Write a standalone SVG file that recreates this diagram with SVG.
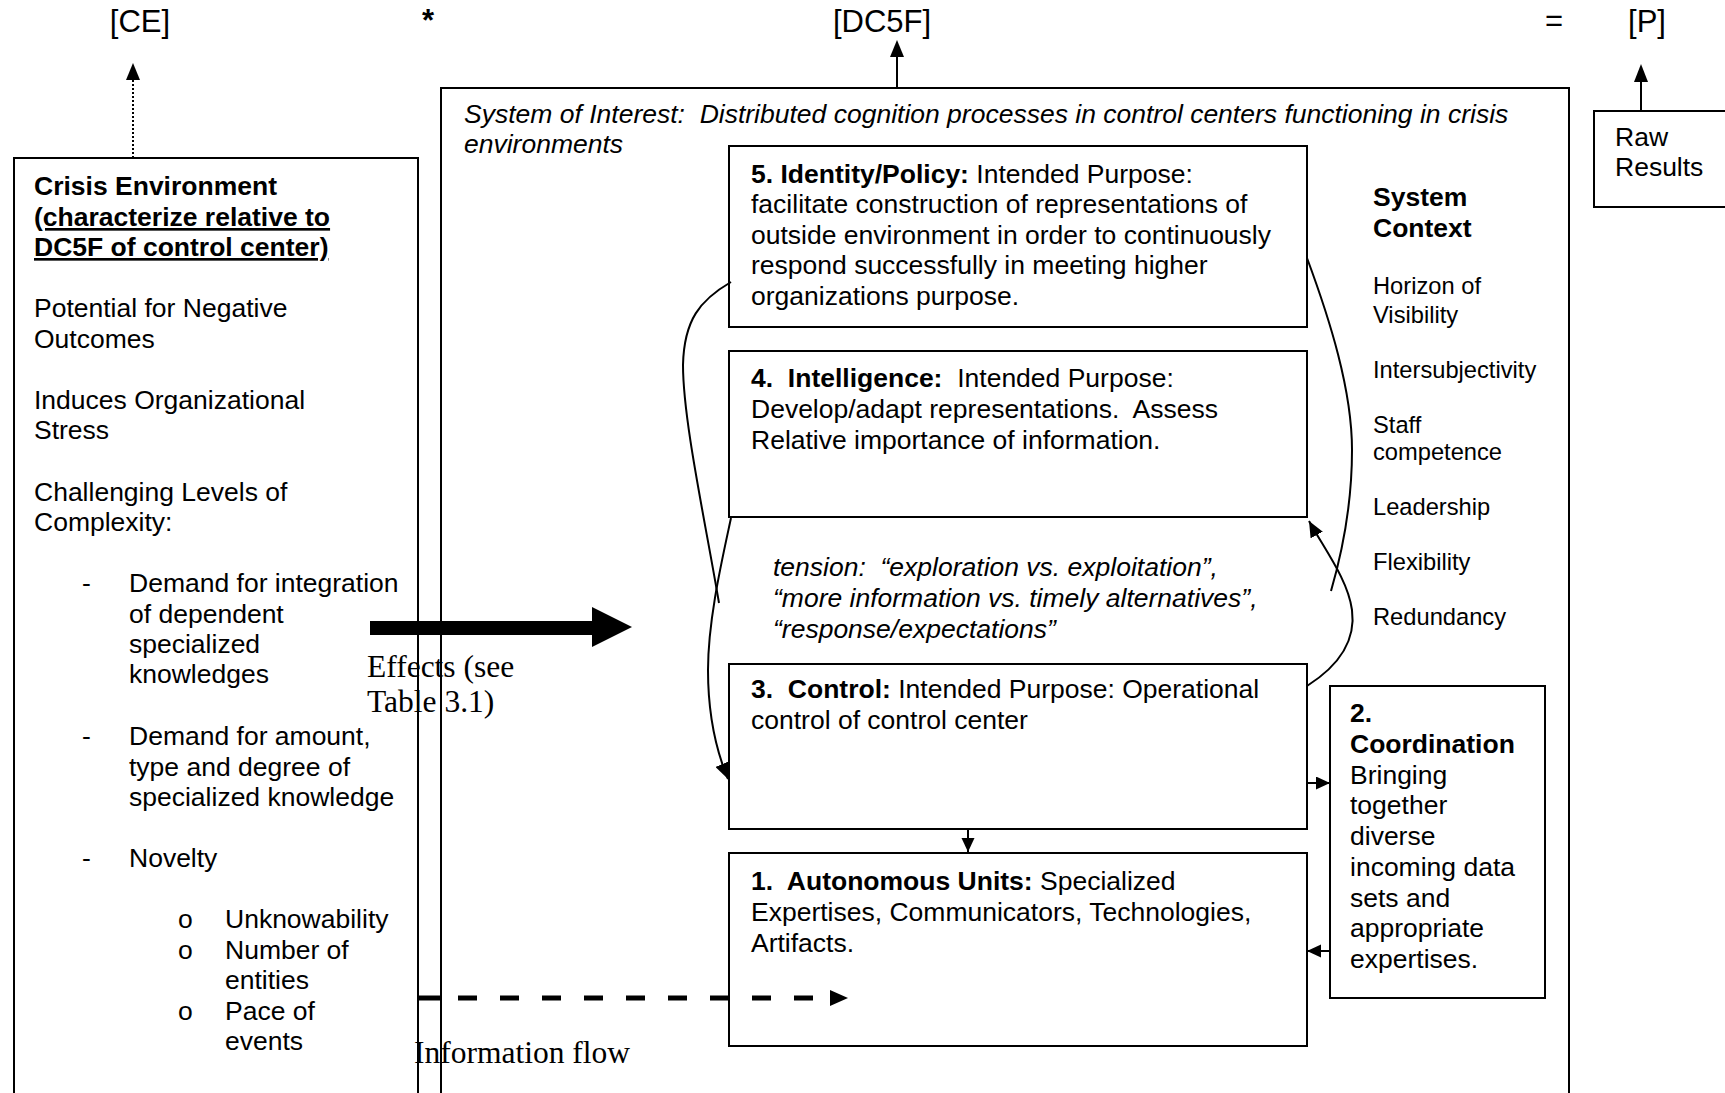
<svg xmlns="http://www.w3.org/2000/svg" width="1725" height="1093" viewBox="0 0 1725 1093">
<style>
.t{font-family:"Liberation Sans",Arial,sans-serif;font-size:26.5px;fill:#000}
.top{font-size:31px}
.b{font-weight:bold}
.i{font-style:italic}
.s{font-size:23.7px}
.u{text-decoration:underline}
.sf{font-family:"Liberation Serif","Times New Roman",serif;font-size:31.5px;fill:#000}
.box{fill:none;stroke:#000;stroke-width:2}
.ln{fill:none;stroke:#000;stroke-width:2}
.hd{fill:#000;stroke:none}
</style>
<defs>
<marker id="ah" markerUnits="userSpaceOnUse" markerWidth="18" markerHeight="14" refX="16" refY="7" orient="auto">
<path d="M0,0 L16,7 L0,14 Z" fill="#000"/>
</marker>
<marker id="ahs" markerUnits="userSpaceOnUse" markerWidth="16" markerHeight="14" refX="14" refY="6.5" orient="auto">
<path d="M0,0 L14,6.5 L0,13 Z" fill="#000"/>
</marker>
</defs>
<rect width="1725" height="1093" fill="#fff"/>

<g id="equation">
<text class="t top" x="140" y="32" text-anchor="middle">[CE]</text>
<text class="t top b" x="428" y="31" text-anchor="middle">*</text>
<text class="t top" x="882" y="32" text-anchor="middle">[DC5F]</text>
<text class="t top" x="1554" y="31" text-anchor="middle">=</text>
<text class="t top" x="1647" y="32" text-anchor="middle">[P]</text>
</g>

<g id="crisis-environment">
<path class="box" d="M14,1093 V158 H418 V1093"/>
<text class="t b" x="34" y="195">Crisis Environment</text>
<text class="t b u" x="34" y="226">(characterize relative to</text>
<text class="t b u" x="34" y="256">DC5F of control center)</text>
<text class="t" x="34" y="317">Potential for Negative</text>
<text class="t" x="34" y="348">Outcomes</text>
<text class="t" x="34" y="409">Induces Organizational</text>
<text class="t" x="34" y="439">Stress</text>
<text class="t" x="34" y="501">Challenging Levels of</text>
<text class="t" x="34" y="531">Complexity:</text>
<text class="t" x="82" y="592">-</text>
<text class="t" x="129" y="592">Demand for integration</text>
<text class="t" x="129" y="623">of dependent</text>
<text class="t" x="129" y="653">specialized</text>
<text class="t" x="129" y="683">knowledges</text>
<text class="t" x="82" y="745">-</text>
<text class="t" x="129" y="745">Demand for amount,</text>
<text class="t" x="129" y="776">type and degree of</text>
<text class="t" x="129" y="806">specialized knowledge</text>
<text class="t" x="82" y="867">-</text>
<text class="t" x="129" y="867">Novelty</text>
<text class="t" x="178" y="928">o</text>
<text class="t" x="225" y="928">Unknowability</text>
<text class="t" x="178" y="959">o</text>
<text class="t" x="225" y="959">Number of</text>
<text class="t" x="225" y="989">entities</text>
<text class="t" x="178" y="1020">o</text>
<text class="t" x="225" y="1020">Pace of</text>
<text class="t" x="225" y="1050">events</text>
</g>

<g id="system-of-interest">
<path class="box" d="M441,1093 V88 H1569 V1093"/>
<text class="t i" x="464" y="123" xml:space="preserve">System of Interest:  Distributed cognition processes in control centers functioning in crisis</text>
<text class="t i" x="464" y="153">environments</text>
</g>

<g id="identity-policy">
<rect class="box" x="729" y="146" width="578" height="181"/>
<text class="t" x="751" y="183" xml:space="preserve"><tspan class="b">5. Identity/Policy:</tspan> Intended Purpose:</text>
<text class="t" x="751" y="213">facilitate construction of representations of</text>
<text class="t" x="751" y="244">outside environment in order to continuously</text>
<text class="t" x="751" y="274">respond successfully in meeting higher</text>
<text class="t" x="751" y="305">organizations purpose.</text>
</g>

<g id="intelligence">
<rect class="box" x="729" y="351" width="578" height="166"/>
<text class="t" x="751" y="387" xml:space="preserve"><tspan class="b">4.  Intelligence:</tspan>  Intended Purpose:</text>
<text class="t" x="751" y="418" xml:space="preserve">Develop/adapt representations.  Assess</text>
<text class="t" x="751" y="449">Relative importance of information.</text>
</g>

<g id="tension">
<text class="t i" x="773" y="576" xml:space="preserve">tension:  “exploration vs. exploitation”,</text>
<text class="t i" x="773" y="607">“more information vs. timely alternatives”,</text>
<text class="t i" x="773" y="638">“response/expectations”</text>
</g>

<g id="control">
<rect class="box" x="729" y="664" width="578" height="165"/>
<text class="t" x="751" y="698" xml:space="preserve"><tspan class="b">3.  Control:</tspan> Intended Purpose: Operational</text>
<text class="t" x="751" y="729">control of control center</text>
</g>

<g id="autonomous-units">
<rect class="box" x="729" y="853" width="578" height="193"/>
<text class="t" x="751" y="890" xml:space="preserve"><tspan class="b">1.  Autonomous Units:</tspan> Specialized</text>
<text class="t" x="751" y="921">Expertises, Communicators, Technologies,</text>
<text class="t" x="751" y="952">Artifacts.</text>
</g>

<g id="coordination">
<rect class="box" x="1330" y="686" width="215" height="312"/>
<text class="t b" x="1350" y="722">2.</text>
<text class="t b" x="1350" y="753">Coordination</text>
<text class="t" x="1350" y="784">Bringing</text>
<text class="t" x="1350" y="814">together</text>
<text class="t" x="1350" y="845">diverse</text>
<text class="t" x="1350" y="876">incoming data</text>
<text class="t" x="1350" y="907">sets and</text>
<text class="t" x="1350" y="937">appropriate</text>
<text class="t" x="1350" y="968">expertises.</text>
</g>

<g id="system-context">
<text class="t b" x="1373" y="206">System</text>
<text class="t b" x="1373" y="237">Context</text>
<text class="t s" x="1373" y="294">Horizon of</text>
<text class="t s" x="1373" y="323">Visibility</text>
<text class="t s" x="1373" y="378">Intersubjectivity</text>
<text class="t s" x="1373" y="433">Staff</text>
<text class="t s" x="1373" y="460">competence</text>
<text class="t s" x="1373" y="515">Leadership</text>
<text class="t s" x="1373" y="570">Flexibility</text>
<text class="t s" x="1373" y="625">Redundancy</text>
</g>

<g id="raw-results">
<rect class="box" x="1594" y="111" width="200" height="96"/>
<text class="t" x="1615" y="146">Raw</text>
<text class="t" x="1615" y="176">Results</text>
</g>

<g id="labels">
<text class="sf" x="367" y="677">Effects (see</text>
<text class="sf" x="367" y="712">Table 3.1)</text>
<text class="sf" x="414" y="1063">Information flow</text>
</g>

<g id="connectors">
<path class="ln" d="M133,158 V78" stroke-dasharray="2 2"/>
<path class="hd" d="M126,80 L133,63 L140,80 Z"/>
<path class="ln" d="M897,88 V55"/>
<path class="hd" d="M890,57 L897,40 L904,57 Z"/>
<path class="ln" d="M1641,111 V80"/>
<path class="hd" d="M1634,82 L1641,64 L1648,82 Z"/>
<path class="hd" d="M370,621 H592 V607 L632,627 L592,647 V635 H370 Z"/>
<path d="M418,998 H441" stroke="#000" stroke-width="5" fill="none"/>
<path d="M458,998 H818" stroke="#000" stroke-width="5" fill="none" stroke-dasharray="19 23"/>
<path class="hd" d="M830,990 L848,998 L830,1006 Z"/>
<path class="ln" d="M731,282 C700,300 684,320 683,365 C683,420 705,520 719,603"/>
<path class="ln" d="M731,518 C722,560 708,620 708,670 C708,720 718,755 728,779" marker-end="url(#ah)"/>
<path class="ln" d="M1307,258 C1330,320 1352,390 1352,450 C1352,510 1340,560 1331,591"/>
<path class="ln" d="M1307,686 C1340,665 1356,640 1352,610 C1348,580 1325,550 1309,521" marker-end="url(#ah)"/>
<path class="ln" d="M968,829 V852" marker-end="url(#ahs)"/>
<path class="ln" d="M1307,783 H1330" marker-end="url(#ahs)"/>
<path class="ln" d="M1330,951 H1307" marker-end="url(#ahs)"/>
</g>
</svg>
